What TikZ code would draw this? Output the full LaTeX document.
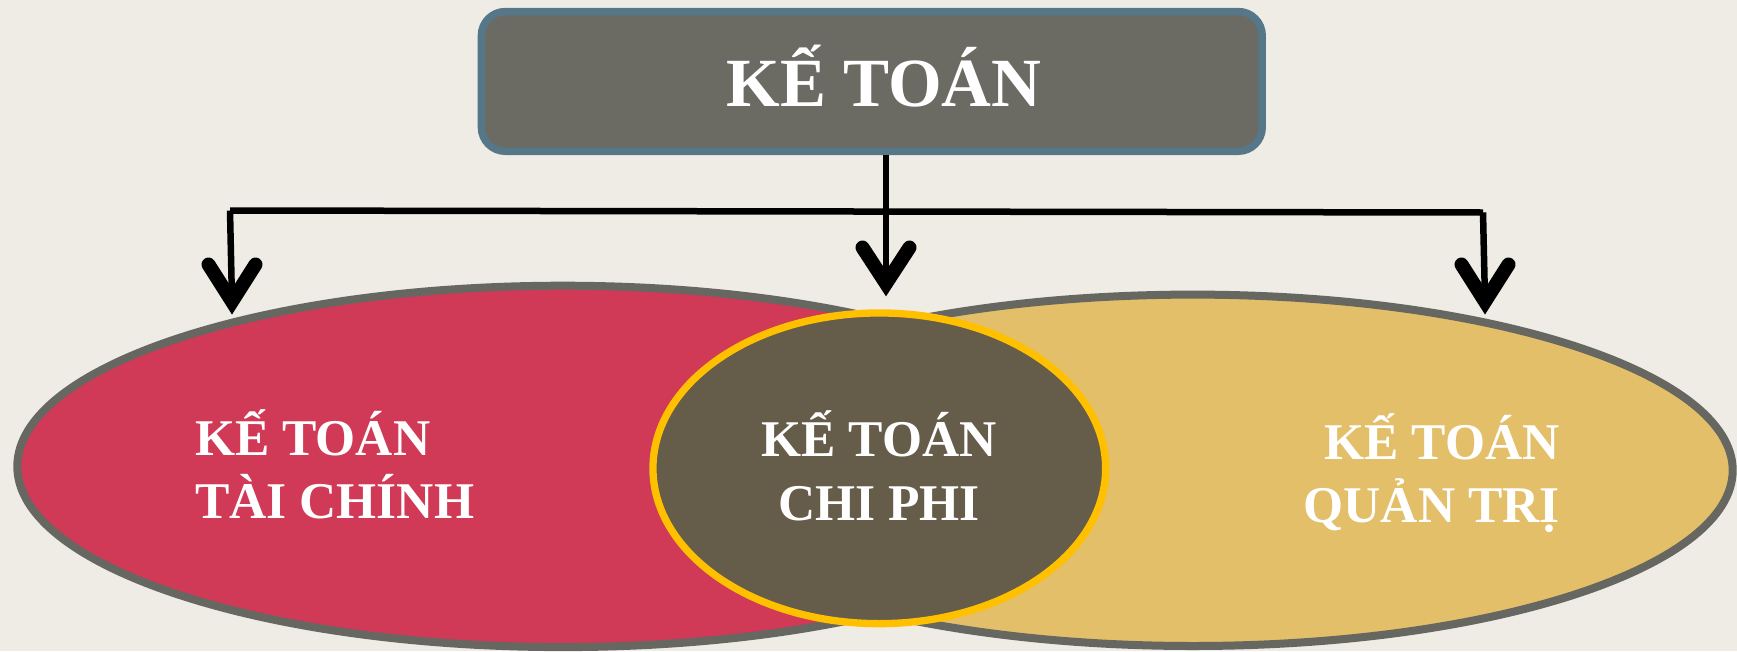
\documentclass[tikz,border=0pt]{standalone}
\usepackage{fontspec}
\setmainfont{Liberation Serif}
\usetikzlibrary{shapes.geometric}
\definecolor{bg}{RGB}{238,236,228}
\definecolor{outl}{RGB}{103,103,97}
\definecolor{boxfill}{RGB}{107,107,99}
\definecolor{boxborder}{RGB}{85,119,136}
\definecolor{finred}{RGB}{209,58,86}
\definecolor{mgmtgold}{RGB}{228,191,106}
\definecolor{costbrown}{RGB}{102,92,74}
\definecolor{costring}{RGB}{255,192,0}
\begin{document}
\begin{tikzpicture}[x=1pt,y=-1pt,
  bubble/.style={ellipse, draw=outl, line width=8pt, inner sep=0pt},
  caption/.style={text=white, font=\fontsize{51.5}{63.3}\selectfont\bfseries, inner sep=0pt},
  link/.style={line width=6.5pt, draw=black},
  vhead/.style={line width=14pt, line cap=round, line join=miter, draw=black},
]
% page background
\fill[bg] (0,0) rectangle (1737,651);
\useasboundingbox (0,0) rectangle (1737,651);

% three accounting branches
\node[bubble, fill=finred, minimum width=1091.4pt, minimum height=361.4pt] (fin) at (563,466.4) {};
\node[bubble, fill=mgmtgold, minimum width=1079.4pt, minimum height=351.4pt] (mgmt) at (1193,470.3) {};
\node[ellipse, draw=costring, fill=costbrown, line width=7.3pt, inner sep=0pt,
      minimum width=452.7pt, minimum height=310.7pt] (cost) at (879.3,468.3) {};

% labels (anchored on the baseline of their last line)
\node[caption, align=left, anchor=base west] (finT) at (195,518.3) {KẾ TOÁN\\TÀI CHÍNH};
\node[caption, align=center, anchor=base] (costT) at (879,520) {KẾ TOÁN\\CHI PHI};
\node[caption, align=right, anchor=base east] (mgmtT) at (1560,522.7) {KẾ TOÁN\\QUẢN TRỊ};

% top heading box
\node[draw=boxborder, fill=boxfill, line width=7.5pt, rounded corners=24pt,
      minimum width=780.8pt, minimum height=139.7pt, inner sep=0pt] (acct) at (871.8,81.4) {};
\node[text=white, font=\fontsize{69}{80}\selectfont\bfseries, inner sep=0pt, anchor=base]
      (acctT) at (884,106.7) {KẾ TOÁN};

% connectors: junctions and the vertices of the V-shaped heads
\coordinate (hM) at (886,283.5);
\coordinate (jL) at (230,210.5);
\coordinate (jR) at (1483,212.5);
\coordinate (hL) at (232,301.5);
\coordinate (hR) at (1485,301.5);

\draw[link] (acct.south -| hM) -- (hM);
\draw[link, line cap=square] (jL) -- (jR);
\draw[link] (jL) -- (hL);
\draw[link] (jR) -- (hR);

\draw[vhead] ([shift={(-23.5,-36)}]hM) -- (hM) -- ([shift={(23.5,-36)}]hM);
\draw[vhead] ([shift={(-23.5,-37)}]hL) -- (hL) -- ([shift={(23.5,-37)}]hL);
\draw[vhead] ([shift={(-23.5,-37)}]hR) -- (hR) -- ([shift={(23.5,-37)}]hR);
\end{tikzpicture}
\end{document}
